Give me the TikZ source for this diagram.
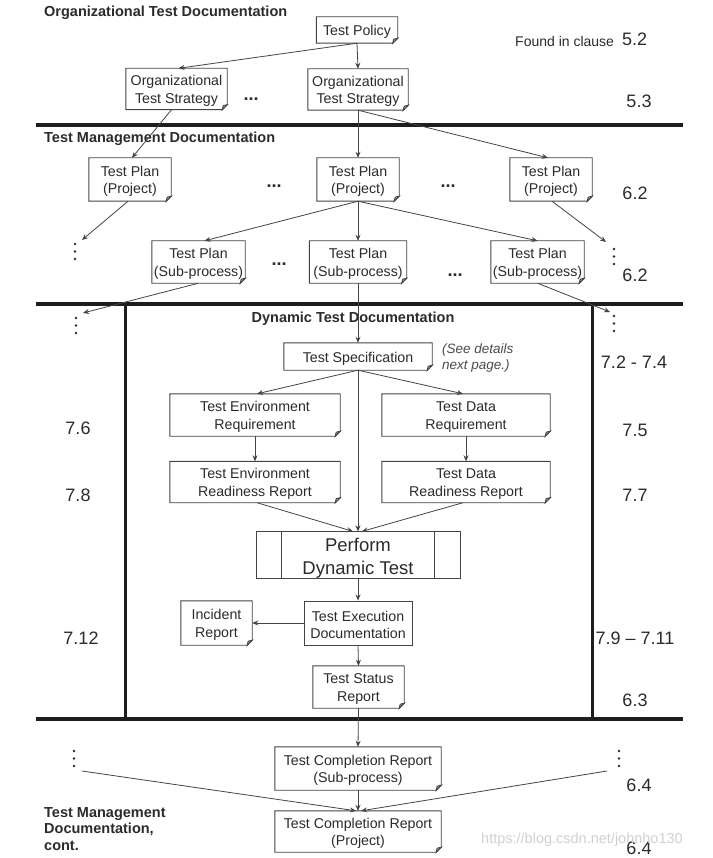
\documentclass[tikz,border=0pt]{standalone}
\usepackage{fontspec}
\setmainfont{Liberation Sans}
\usetikzlibrary{arrows.meta}
\definecolor{txt}{HTML}{2B2B2B}
\definecolor{ln}{HTML}{444444}
\definecolor{thick}{HTML}{1E1E1E}
\newcommand\bxf{\fontsize{14.2}{17.5}\selectfont}
\newcommand\hdf{\fontsize{14.5}{16.5}\selectfont\bfseries}
\newcommand\clf{\fontsize{18}{20}\selectfont}
\newcommand\up{\rule{0pt}{14.4pt}}
\newcommand\foldbox[1]{%
  \draw[boxline] (#1.north west) -- (#1.north east) -- ([yshift=5pt]#1.south east) -- ([xshift=-5pt]#1.south east) -- (#1.south west) -- cycle;
  \draw[boxline,fill=ln!40] ([yshift=5pt]#1.south east) -- ([xshift=-5pt]#1.south east) -- ([xshift=-4pt,yshift=4pt]#1.south east) -- cycle;}
\newcommand\vdotsat[2]{%
  \foreach \k in {0,1,2}{\fill[txt] (#1,#2+\k*7.5) circle (1.4);}}
\tikzset{
  box/.style={inner sep=0pt, align=center, font=\bxf, text=txt},
  pbox/.style={box, draw=ln, line width=0.9pt},
  boxline/.style={draw=ln, line width=0.9pt},
  conn/.style={draw=ln, line width=0.8pt, -{Stealth[length=6pt,width=5pt]}},
  head/.style={font=\hdf, text=txt, inner sep=0pt},
  clause/.style={font=\clf, text=txt, inner sep=0pt},
  dots/.style={font=\clf\bfseries, text=txt, inner sep=0pt},
  sepline/.style={draw=thick, line width=4pt},
  frame/.style={draw=thick, line width=3pt}
}
\begin{document}
\begin{tikzpicture}[x=1pt,y=-1pt]
\useasboundingbox[fill=white] (0,0) rectangle (712,858);

% separator lines and frame
\draw[sepline] (36,125) -- (683,125);
\draw[sepline] (36,303.5) -- (683,303.5);
\draw[sepline] (36,719) -- (683,719);
\draw[frame] (125,303.5) -- (125,719);
\draw[frame] (592,303.5) -- (592,719);

% headings
\node[head, anchor=west] (h1) at (44,13) {Organizational Test Documentation};
\node[head, anchor=west] (h2) at (44,139) {Test Management Documentation};
\node[head] (h3) at (353,318.5) {Dynamic Test Documentation};
\node[head, anchor=west, align=left] (h4) at (44,829) {Test Management\\Documentation,\\cont.};

% clause labels
\node[font=\fontsize{14}{16}\selectfont, text=txt, inner sep=0pt, anchor=west] (fic) at (515,42) {Found in clause};
\node[clause, anchor=west] (c52) at (622,39) {5.2};
\node[clause] (c53) at (639,101) {5.3};
\node[clause] (c62a) at (635,193) {6.2};
\node[clause] (c62b) at (635,275) {6.2};
\node[clause] (c72) at (634,362) {7.2 - 7.4};
\node[clause] (c75) at (635,430) {7.5};
\node[clause] (c77) at (635,495) {7.7};
\node[clause] (c79) at (635,638) {7.9 – 7.11};
\node[clause] (c63) at (635,700) {6.3};
\node[clause] (c64a) at (639,785) {6.4};
\node[clause] (c64b) at (639,848) {6.4};
\node[clause] (c76) at (78,428) {7.6};
\node[clause] (c78) at (78,495) {7.8};
\node[clause] (c712) at (81,638) {7.12};

% horizontal ellipses
\node[dots] (e1) at (251,99) {...};
\node[dots] (e2) at (274,186) {...};
\node[dots] (e3) at (448,186) {...};
\node[dots] (e4) at (279,264) {...};
\node[dots] (e5) at (455,275) {...};

% vertical ellipses
\vdotsat{75}{244}
\vdotsat{614}{249}
\vdotsat{76}{318}
\vdotsat{614}{316}
\vdotsat{74}{751}
\vdotsat{619}{751}
\coordinate (d1) at (82,240);
\coordinate (d2) at (606,242);
\coordinate (d3) at (83,313);
\coordinate (d4) at (610,312);
\coordinate (d5) at (82,771);
\coordinate (d6) at (607,771);

% note
\node[font=\fontsize{13.5}{16}\selectfont\itshape, text=txt!85, inner sep=0pt, anchor=west, align=left] (note) at (442,358) {(See details\\next page.)};

% watermark
\node[font=\fontsize{14.5}{16}\selectfont, text=black!18, inner sep=0pt, anchor=west] (wm) at (481,840) {https://blog.csdn.net/johnho130};

% document nodes
\node[box, minimum width=81, minimum height=26] (pol) at (357,30) {\up Test Policy};
\node[box, minimum width=101, minimum height=41] (ots1) at (176.5,89) {\up Organizational\\Test Strategy};
\node[box, minimum width=100, minimum height=41] (ots2) at (358,89.5) {\up Organizational\\Test Strategy};
\node[box, minimum width=82, minimum height=43] (tpp1) at (130,179.5) {\up Test Plan\\(Project)};
\node[box, minimum width=82, minimum height=43] (tpp2) at (358,179.5) {\up Test Plan\\(Project)};
\node[box, minimum width=82, minimum height=43] (tpp3) at (551,179.5) {\up Test Plan\\(Project)};
\node[box, minimum width=93, minimum height=42] (tps1) at (198.5,262) {\up Test Plan\\(Sub-process)};
\node[box, minimum width=97, minimum height=42] (tps2) at (358,262) {\up Test Plan\\(Sub-process)};
\node[box, minimum width=93, minimum height=42] (tps3) at (537.5,262) {\up Test Plan\\(Sub-process)};
\node[box, minimum width=148, minimum height=27] (spec) at (358,356.5) {\up Test Specification};
\node[box, minimum width=170, minimum height=42] (ter) at (255,415) {\up Test Environment\\Requirement};
\node[box, minimum width=168, minimum height=42] (tdr) at (466,415) {\up Test Data\\Requirement};
\node[box, minimum width=170, minimum height=41] (terr) at (255,482) {\up Test Environment\\Readiness Report};
\node[box, minimum width=168, minimum height=41] (tdrr) at (466,482) {\up Test Data\\Readiness Report};
\node[pbox, minimum width=204, minimum height=46, font=\fontsize{18.5}{23}\selectfont] (pdt) at (358,555) {\rule{0pt}{19.5pt}Perform\\Dynamic Test};
\draw[boxline] ([xshift=26pt]pdt.north west) -- ([xshift=26pt]pdt.south west);
\draw[boxline] ([xshift=-26pt]pdt.north east) -- ([xshift=-26pt]pdt.south east);
\node[pbox, minimum width=108, minimum height=44] (ted) at (358,623) {\up Test Execution\\Documentation};
\node[box, minimum width=71, minimum height=44] (inc) at (216.5,623) {\up Incident\\Report};
\node[box, minimum width=91, minimum height=42] (tsr) at (358.5,687) {\up Test Status\\Report};
\node[box, minimum width=166, minimum height=43] (tcs) at (358,768.5) {\up Test Completion Report\\(Sub-process)};
\node[box, minimum width=166, minimum height=41] (tcp) at (358,831.5) {\up Test Completion Report\\(Project)};

\foreach \n in {pol,ots1,ots2,tpp1,tpp2,tpp3,tps1,tps2,tps3,spec,ter,tdr,terr,tdrr,inc,tsr,tcs,tcp}{\foldbox{\n}}

% connectors
\draw[conn] (pol.south) -- ([xshift=2pt]ots1.north);
\draw[conn] (pol.south) -- (ots2.north);
\draw[conn] ([xshift=-5pt]ots1.south) -- ([xshift=2pt]tpp1.north);
\draw[conn] (ots2.south) -- (tpp2.north);
\draw[conn] (ots2.south) -- ([xshift=-3pt]tpp3.north);
\draw[conn] (tpp2.south) -- ([xshift=6pt]tps1.north);
\draw[conn] (tpp2.south) -- (tps2.north);
\draw[conn] (tpp2.south) -- (tps3.north);
\draw[conn] ([xshift=-2pt]tpp1.south) -- (d1);
\draw[conn] ([xshift=1pt]tpp3.south) -- (d2);
\draw[conn] (tps1.south) -- (d3);
\draw[conn] (tps3.south) -- (d4);
\draw[conn] (tps2.south) -- (spec.north);
\draw[conn] (spec.south) -- ([xshift=2pt]ter.north);
\draw[conn] (spec.south) -- ([xshift=-3pt]tdr.north);
\draw[conn] (spec.south) -- (pdt.north);
\draw[conn] (ter.south) -- (terr.north);
\draw[conn] (tdr.south) -- (tdrr.north);
\draw[conn] ([xshift=2pt]terr.south) -- ([xshift=-5pt]pdt.north);
\draw[conn] ([xshift=-3pt]tdrr.south) -- ([xshift=4pt]pdt.north);
\draw[conn] (pdt.south) -- (ted.north);
\draw[conn] (ted.west) -- (inc.east);
\draw[conn] (ted.south) -- (tsr.north);
\draw[conn] (tsr.south) -- (tcs.north);
\draw[conn] (tcs.south) -- (tcp.north);
\draw[conn] (d5) -- ([xshift=-2pt]tcp.north);
\draw[conn] (d6) -- ([xshift=3pt]tcp.north);
\end{tikzpicture}
\end{document}
